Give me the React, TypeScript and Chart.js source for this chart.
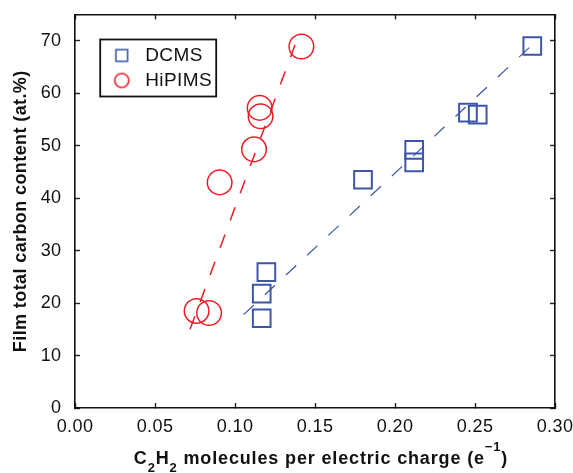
import { useEffect, useRef } from 'react';
import { Chart, registerables } from 'chart.js';

Chart.register(...registerables);

// ---- data ----
const seriesNames = ['DCMS', 'HiPIMS'];

const dcmsX = [0.1167, 0.1167, 0.1196, 0.180, 0.212, 0.212, 0.2456, 0.2517, 0.2858];
const dcmsY = [17.1, 21.8, 25.9, 43.5, 46.8, 49.2, 56.3, 55.9, 69.0];

const hipimsX = [0.0760, 0.0838, 0.0904, 0.1119, 0.1154, 0.1160, 0.1415];
const hipimsY = [18.5, 18.1, 43.0, 49.3, 57.2, 55.6, 68.9];

const dcmsFitX = [0.1054, 0.2906];
const dcmsFitY = [17.8, 70.6];
const hipimsFitX = [0.0719, 0.1375];
const hipimsFitY = [15.0, 69.2];

const xTicks = [0, 0.05, 0.1, 0.15, 0.2, 0.25, 0.3];
const xTickLabels = ['0.00', '0.05', '0.10', '0.15', '0.20', '0.25', '0.30'];
const yTicks = [0, 10, 20, 30, 40, 50, 60, 70];
const yTickLabels = ['0', '10', '20', '30', '40', '50', '60', '70'];

const yTitle = 'Film total carbon content (at.%)';
// x title pieces: n = normal, sub = subscript, sup = superscript
const xTitleParts: [string, string][] = [
  ['C', 'n'],
  ['2', 'sub'],
  ['H', 'n'],
  ['2', 'sub'],
  [' molecules per electric charge (e', 'n'],
  ['\u22121', 'sup'],
  [')', 'n'],
];

const FONT = "'Liberation Sans', Arial, Helvetica, sans-serif";
const BLUE = '#3d56a8';
const RED = '#ec1c24';
const INK = '#111111';

function zip(xs: number[], ys: number[]) {
  return xs.map((x, i) => ({ x, y: ys[i] }));
}

function makeIcon(kind: string, color: string) {
  const c = document.createElement('canvas');
  c.width = 20;
  c.height = 20;
  const g = c.getContext('2d')!;
  g.strokeStyle = color;
  g.lineWidth = 1.6;
  if (kind === 'rect') {
    g.strokeRect(4.2, 4.2, 11.6, 11.6);
  } else {
    g.beginPath();
    g.arc(10, 10, 7, 0, Math.PI * 2);
    g.stroke();
  }
  return c;
}

export default function App() {
  const ref = useRef<HTMLCanvasElement | null>(null);

  useEffect(() => {
    document.body.style.margin = '0';
    const canvas = ref.current!;
    const icons = [makeIcon('rect', BLUE), makeIcon('circle', RED)];

    const tickFont = { family: FONT, size: 18 };
    const zeroPad = (s: any) => {
      s.paddingLeft = 0;
      s.paddingRight = 0;
      s.paddingTop = 0;
      s.paddingBottom = 0;
    };
    const gridOpts = {
      drawOnChartArea: false,
      drawTicks: true,
      tickLength: -5,
      tickColor: '#222',
      tickWidth: 1.4,
    };
    const borderOpts = { display: true, color: INK, width: 1.6 };

    const extras = {
      id: 'extras',
      afterLayout(chart: any) {
        const lg = chart.legend;
        const ca = chart.chartArea;
        if (lg) {
          const w = lg.width;
          lg.left = ca.left + 26.7;
          lg.top = ca.top + 25.5;
          lg.right = lg.left + w;
          lg.bottom = lg.top + 200;
        }
      },
      beforeDraw(chart: any) {
        chart.ctx.letterSpacing = '0.4px';
      },
      afterDraw(chart: any) {
        const ctx = chart.ctx;
        const lg = chart.legend;
        const ca = chart.chartArea;
        ctx.save();
        // legend frame
        ctx.strokeStyle = INK;
        ctx.lineWidth = 1.8;
        ctx.strokeRect(lg.left - 1.5, lg.top - 0.5, 116, 57);
        // x axis title with sub/superscripts
        const big = `bold 18px ${FONT}`;
        const small = `bold 13px ${FONT}`;
        ctx.letterSpacing = '0.85px';
        let total = 0;
        for (const [t, k] of xTitleParts) {
          ctx.font = k === 'n' ? big : small;
          total += ctx.measureText(t).width;
        }
        let x = (ca.left + ca.right) / 2 + 6 - total / 2;
        const base = ca.bottom + 56;
        ctx.fillStyle = INK;
        ctx.textBaseline = 'alphabetic';
        ctx.textAlign = 'left';
        for (const [t, k] of xTitleParts) {
          ctx.font = k === 'n' ? big : small;
          const dy = k === 'sub' ? 8 : k === 'sup' ? -13 : 0;
          ctx.fillText(t, x, base + dy);
          x += ctx.measureText(t).width;
        }
        ctx.restore();
        ctx.letterSpacing = '0px';
      },
    };

    const chart = new Chart(canvas, {
      type: 'scatter',
      data: {
        datasets: [
          {
            label: seriesNames[0],
            data: zip(dcmsX, dcmsY),
            pointStyle: 'rect',
            pointRadius: 12.5,
            pointHoverRadius: 12.5,
            borderColor: BLUE,
            backgroundColor: 'rgba(0,0,0,0)',
            borderWidth: 2,
            showLine: false,
          },
          {
            label: seriesNames[1],
            data: zip(hipimsX, hipimsY),
            pointStyle: 'circle',
            pointRadius: 12.3,
            pointHoverRadius: 12.3,
            borderColor: RED,
            backgroundColor: 'rgba(0,0,0,0)',
            borderWidth: 1.5,
            showLine: false,
          },
          {
            label: 'DCMS fit',
            data: zip(dcmsFitX, dcmsFitY),
            showLine: true,
            pointRadius: 0,
            borderColor: BLUE,
            borderWidth: 1.2,
            borderDash: [14, 15],
            fill: false,
          },
          {
            label: 'HiPIMS fit',
            data: zip(hipimsFitX, hipimsFitY),
            showLine: true,
            pointRadius: 0,
            borderColor: RED,
            borderWidth: 1.5,
            borderDash: [14, 15],
            fill: false,
          },
        ],
      },
      options: {
        animation: false,
        responsive: false,
        maintainAspectRatio: false,
        devicePixelRatio: 1,
        layout: { padding: { left: 0, top: 13, right: 18, bottom: 0 } },
        plugins: {
          tooltip: { enabled: false },
          legend: {
            display: true,
            position: 'chartArea',
            align: 'start',
            labels: {
              usePointStyle: true,
              pointStyleWidth: 28,
              padding: 6,
              color: INK,
              font: { family: FONT, size: 19 },
              generateLabels: (ch: any) => {
                const items = (Chart.defaults.plugins.legend.labels.generateLabels as any)(ch);
                return items
                  .filter((it: any) => it.datasetIndex < 2)
                  .map((it: any) => ({ ...it, pointStyle: icons[it.datasetIndex], lineWidth: 0 }));
              },
            },
          },
        },
        scales: {
          x: {
            type: 'linear',
            position: 'bottom',
            min: 0,
            max: 0.3,
            afterBuildTicks: (s: any) => {
              s.ticks = xTicks.map((v) => ({ value: v }));
            },
            afterFit: (s: any) => {
              s.height = 65;
              zeroPad(s);
            },
            ticks: {
              font: tickFont,
              color: INK,
              padding: 13,
              maxRotation: 0,
              autoSkip: false,
              callback: (v: any) => xTickLabels[xTicks.indexOf(v)],
            },
            grid: gridOpts,
            border: borderOpts,
          },
          x2: {
            type: 'linear',
            position: 'top',
            min: 0,
            max: 0.3,
            afterBuildTicks: (s: any) => {
              s.ticks = xTicks.map((v) => ({ value: v }));
            },
            afterFit: (s: any) => {
              s.height = 0;
              zeroPad(s);
            },
            ticks: { display: false },
            grid: gridOpts,
            border: borderOpts,
          },
          y: {
            type: 'linear',
            position: 'left',
            min: 0,
            max: 75,
            afterBuildTicks: (s: any) => {
              s.ticks = yTicks.map((v) => ({ value: v }));
            },
            afterFit: (s: any) => {
              s.width = 75;
              zeroPad(s);
            },
            ticks: {
              font: tickFont,
              color: INK,
              padding: 18.5,
              autoSkip: false,
              callback: (v: any) => yTickLabels[yTicks.indexOf(v)],
            },
            grid: gridOpts,
            border: borderOpts,
            title: {
              display: true,
              text: yTitle,
              color: INK,
              font: { family: FONT, size: 18, weight: 'bold' },
              padding: { top: 10.5, bottom: 0 },
            },
          },
          y2: {
            type: 'linear',
            position: 'right',
            min: 0,
            max: 75,
            afterBuildTicks: (s: any) => {
              s.ticks = yTicks.map((v) => ({ value: v }));
            },
            afterFit: (s: any) => {
              s.width = 0;
              zeroPad(s);
            },
            ticks: { display: false },
            grid: gridOpts,
            border: borderOpts,
          },
        },
      } as any,
      plugins: [extras],
    });

    return () => chart.destroy();
  }, []);

  return (
    <div style={{ width: 573, height: 473, background: '#fff' }}>
      <canvas ref={ref} width={573} height={473} style={{ display: 'block' }} />
    </div>
  );
}
